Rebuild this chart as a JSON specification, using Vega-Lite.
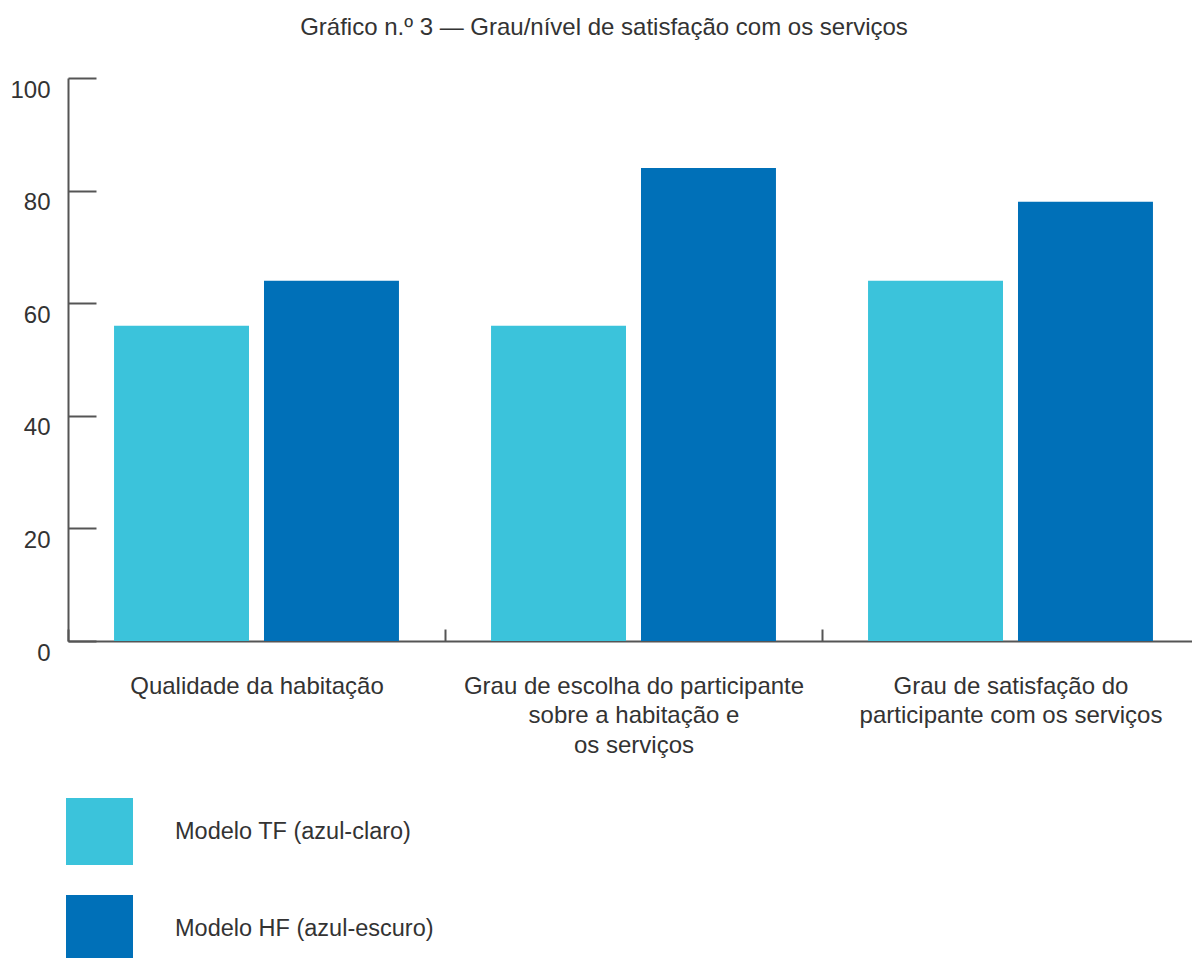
{
  "$schema": "https://vega.github.io/schema/vega-lite/v6.json",
  "width": 1124,
  "height": 563,
  "autosize": {"type": "none"},
  "padding": {"left": 68, "top": 78, "right": 0, "bottom": 317},
  "background": "white",
  "config": {
    "view": {"stroke": null},
    "font": "Liberation Sans"
  },
  "title": {
    "text": "Gráfico n.º 3 — Grau/nível de satisfação com os serviços",
    "fontSize": 24,
    "fontWeight": "normal",
    "color": "#333333",
    "font": "Liberation Sans",
    "anchor": "middle",
    "frame": "group",
    "dx": -26,
    "offset": 37
  },
  "data": {
    "values": [
      {"categoria": "Qualidade da habitação", "modelo": "Modelo TF (azul-claro)", "valor": 56},
      {"categoria": "Qualidade da habitação", "modelo": "Modelo HF (azul-escuro)", "valor": 64},
      {"categoria": "Grau de escolha do participante sobre a habitação e os serviços", "modelo": "Modelo TF (azul-claro)", "valor": 56},
      {"categoria": "Grau de escolha do participante sobre a habitação e os serviços", "modelo": "Modelo HF (azul-escuro)", "valor": 84},
      {"categoria": "Grau de satisfação do participante com os serviços", "modelo": "Modelo TF (azul-claro)", "valor": 64},
      {"categoria": "Grau de satisfação do participante com os serviços", "modelo": "Modelo HF (azul-escuro)", "valor": 78}
    ]
  },
  "mark": {"type": "bar"},
  "encoding": {
    "x": {
      "field": "categoria",
      "type": "nominal",
      "sort": null,
      "scale": {"range": [0, 1131], "paddingInner": 0, "paddingOuter": 0},
      "axis": {
        "title": null,
        "labelAngle": 0,
        "labelFont": "Liberation Sans",
        "labelFontSize": 24,
        "labelColor": "#333333",
        "labelLineHeight": 29.5,
        "labelPadding": 45,
        "labelLimit": 0,
        "labelExpr": "datum.value == 'Qualidade da habitação' ? 'Qualidade da habitação' : (datum.value == 'Grau de satisfação do participante com os serviços' ? ['Grau de satisfação do', 'participante com os serviços'] : (datum.value == 'Grau de escolha do participante sobre a habitação e os serviços' ? ['Grau de escolha do participante', 'sobre a habitação e', 'os serviços'] : ''))",
        "tickBand": "extent",
        "tickSize": -12,
        "tickWidth": 2,
        "tickColor": "#555555",
        "domainColor": "#555555",
        "domainWidth": 2
      }
    },
    "xOffset": {
      "field": "modelo",
      "type": "nominal",
      "sort": ["Modelo TF (azul-claro)", "Modelo HF (azul-escuro)"],
      "scale": {"paddingInner": 0.1, "paddingOuter": 0.307}
    },
    "y": {
      "field": "valor",
      "type": "quantitative",
      "scale": {"domain": [0, 100], "nice": false},
      "axis": {
        "title": null,
        "values": [0, 20, 40, 60, 80, 100],
        "grid": false,
        "labelFont": "Liberation Sans",
        "labelFontSize": 24,
        "labelColor": "#333333",
        "labelPadding": 46,
        "labelOffset": 12,
        "tickSize": -28,
        "tickWidth": 2,
        "tickColor": "#555555",
        "domainColor": "#555555",
        "domainWidth": 2
      }
    },
    "color": {
      "field": "modelo",
      "type": "nominal",
      "sort": ["Modelo TF (azul-claro)", "Modelo HF (azul-escuro)"],
      "scale": {
        "domain": ["Modelo TF (azul-claro)", "Modelo HF (azul-escuro)"],
        "range": ["#3BC3DB", "#0070B8"]
      },
      "legend": {
        "title": null,
        "orient": "none",
        "legendX": -2,
        "legendY": 720,
        "direction": "vertical",
        "symbolType": "square",
        "symbolSize": 4489,
        "symbolStrokeWidth": 0,
        "symbolOpacity": 1,
        "labelFont": "Liberation Sans",
        "labelFontSize": 23.5,
        "labelColor": "#333333",
        "labelOffset": 42,
        "labelLimit": 0,
        "rowPadding": 30,
        "padding": 0
      }
    }
  }
}
